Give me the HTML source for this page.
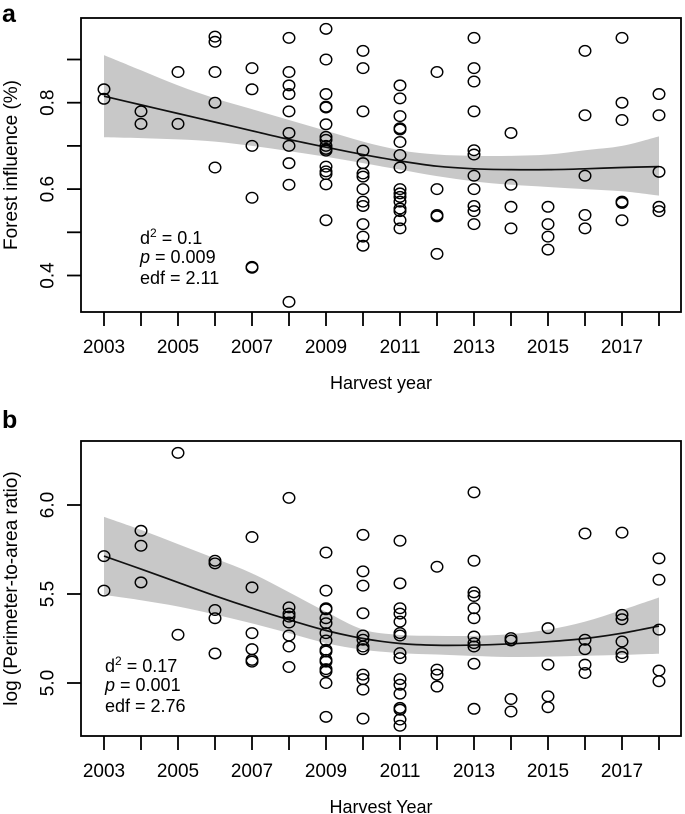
<!DOCTYPE html>
<html><head><meta charset="utf-8"><style>
body{margin:0;background:#fff}
svg{display:block;font-family:"Liberation Sans",Arial,sans-serif}
</style></head><body>
<svg id="chart" width="685" height="814" viewBox="0 0 685 814"></svg>
<script>
// ---- data: panel a (forest influence)
const yearsA = [2003,2003,2004,2004,2005,2005,2006,2006,2006,2006,2006,2007,2007,2007,2007,2007,2007,
2008,2008,2008,2008,2008,2008,2008,2008,2008,2008,
2009,2009,2009,2009,2009,2009,2009,2009,2009,2009,2009,2009,2009,2009,2009,2009,
2010,2010,2010,2010,2010,2010,2010,2010,2010,2010,2010,2010,2010,
2011,2011,2011,2011,2011,2011,2011,2011,2011,2011,2011,2011,2011,2011,2011,2011,
2012,2012,2012,2012,2012,
2013,2013,2013,2013,2013,2013,2013,2013,2013,2013,2013,
2014,2014,2014,2014,2015,2015,2015,2015,2016,2016,2016,2016,2016,
2017,2017,2017,2017,2017,2017,2018,2018,2018,2018,2018];
const valuesA = [0.831,0.809,0.78,0.751,0.871,0.751,0.953,0.941,0.871,0.80,0.65,0.88,0.831,0.70,0.58,0.42,0.418,
0.95,0.871,0.84,0.82,0.78,0.73,0.70,0.66,0.61,0.339,
0.971,0.90,0.82,0.791,0.789,0.75,0.721,0.714,0.70,0.693,0.689,0.652,0.641,0.635,0.611,0.528,
0.92,0.88,0.78,0.689,0.66,0.636,0.629,0.60,0.571,0.561,0.519,0.49,0.469,
0.84,0.81,0.769,0.741,0.738,0.709,0.679,0.65,0.60,0.59,0.582,0.571,0.555,0.549,0.528,0.509,
0.871,0.60,0.54,0.537,0.45,
0.95,0.88,0.849,0.78,0.69,0.68,0.631,0.60,0.561,0.549,0.519,
0.73,0.61,0.559,0.509,0.559,0.519,0.49,0.46,0.92,0.771,0.631,0.54,0.509,
0.95,0.80,0.76,0.571,0.568,0.528,0.82,0.771,0.64,0.559,0.549];
const fitYears = [2003,2004,2005,2006,2007,2008,2009,2010,2011,2012,2013,2014,2015,2016,2017,2018];
const fitA = [0.815,0.795,0.775,0.755,0.735,0.715,0.697,0.68,0.665,0.653,0.647,0.645,0.645,0.647,0.65,0.652];
const hiA = [0.91,0.875,0.84,0.81,0.785,0.76,0.735,0.71,0.69,0.68,0.677,0.677,0.68,0.69,0.70,0.722];
const loA = [0.72,0.718,0.715,0.71,0.70,0.688,0.675,0.66,0.645,0.63,0.618,0.61,0.605,0.6,0.595,0.585];
const yTicksA = [0.4,0.5,0.6,0.7,0.8,0.9];
const yLabelsA = ["0.4","","0.6","","0.8",""];
// ---- data: panel b (log perimeter-to-area)
const yearsB = [2003,2003,2004,2004,2004,2005,2005,2006,2006,2006,2006,2006,2007,2007,2007,2007,2007,2007,
2008,2008,2008,2008,2008,2008,2008,2008,
2009,2009,2009,2009,2009,2009,2009,2009,2009,2009,2009,2009,2009,2009,2009,2009,
2010,2010,2010,2010,2010,2010,2010,2010,2010,2010,2010,2010,
2011,2011,2011,2011,2011,2011,2011,2011,2011,2011,2011,2011,2011,2011,2011,2011,
2012,2012,2012,2012,
2013,2013,2013,2013,2013,2013,2013,2013,2013,2013,2013,
2014,2014,2014,2014,2015,2015,2015,2015,2016,2016,2016,2016,2016,
2017,2017,2017,2017,2017,2017,2018,2018,2018,2018,2018];
const valuesB = [5.713,5.519,5.855,5.771,5.565,6.293,5.271,5.687,5.672,5.41,5.364,5.166,5.82,5.537,5.28,5.19,5.13,5.12,
6.04,5.425,5.39,5.373,5.34,5.267,5.205,5.09,
5.733,5.519,5.42,5.414,5.364,5.336,5.28,5.239,5.187,5.177,5.13,5.12,5.078,5.065,5.0,4.81,
5.832,5.627,5.547,5.392,5.267,5.243,5.205,5.19,5.047,5.022,4.963,4.80,
5.799,5.56,5.42,5.39,5.345,5.28,5.267,5.168,5.14,5.022,4.99,4.94,4.86,4.85,4.795,4.76,
5.653,5.075,5.047,4.98,
6.071,5.687,5.509,5.489,5.42,5.364,5.261,5.224,5.205,5.108,4.855,
5.252,5.239,4.91,4.84,5.308,5.103,4.925,4.864,5.84,5.243,5.19,5.103,5.056,
5.845,5.383,5.358,5.233,5.168,5.146,5.70,5.58,5.30,5.07,5.01];
const fitB = [5.713,5.64,5.565,5.49,5.42,5.355,5.295,5.25,5.222,5.212,5.213,5.22,5.232,5.25,5.28,5.32];
const hiB = [5.933,5.86,5.78,5.70,5.616,5.51,5.40,5.30,5.27,5.265,5.265,5.275,5.30,5.345,5.41,5.48];
const loB = [5.495,5.465,5.43,5.385,5.335,5.28,5.224,5.187,5.168,5.16,5.152,5.146,5.148,5.153,5.158,5.164];
const yTicksB = [5.0,5.5,6.0];
const yLabelsB = ["5.0","5.5","6.0"];
const xTicks = [2003,2004,2005,2006,2007,2008,2009,2010,2011,2012,2013,2014,2015,2016,2017,2018];
const xLabels = ["2003","","2005","","2007","","2009","","2011","","2013","","2015","","2017",""];

const NS="http://www.w3.org/2000/svg";
const svg=document.getElementById('chart');
function mk(tag,attrs,parent){const e=document.createElementNS(NS,tag);for(const k in attrs)e.setAttribute(k,attrs[k]);(parent||svg).appendChild(e);return e;}
function xScale(y){return 104+(y-2003)*37;}
function smooth(pts){
  let d='M'+pts[0][0]+' '+pts[0][1];
  for(let i=0;i<pts.length-1;i++){
    const p0=pts[i-1]||pts[i],p1=pts[i],p2=pts[i+1],p3=pts[i+2]||p2;
    const c1x=p1[0]+(p2[0]-p0[0])/6,c1y=p1[1]+(p2[1]-p0[1])/6;
    const c2x=p2[0]-(p3[0]-p1[0])/6,c2y=p2[1]-(p3[1]-p1[1])/6;
    d+=`C${c1x} ${c1y} ${c2x} ${c2y} ${p2[0]} ${p2[1]}`;
  }
  return d;
}

function panel(cfg){
  const g=mk('g',{});
  
  
  const ys=v=>cfg.y0px+(v-cfg.y0)*cfg.pxPer;
  const hiPts=fitYears.map((yr,i)=>[xScale(yr),ys(cfg.hi[i])]);
  const loPts=fitYears.map((yr,i)=>[xScale(yr),ys(cfg.lo[i])]).reverse();
  const d=smooth(hiPts)+'L'+smooth(loPts).slice(1)+'Z';
  const rib=mk('path',{d:d,fill:'#c8c8c8',stroke:'none'},g);
  
  
  const fd=smooth(fitYears.map((yr,i)=>[xScale(yr),ys(cfg.fit[i])]));
  const fl=mk('path',{d:fd,fill:'none',stroke:'#111','stroke-width':1.7},g);
  
  
  cfg.years.forEach((yr,i)=>{
    const c=mk('ellipse',{cx:xScale(yr),cy:ys(cfg.vals[i]),rx:5.8,ry:5.3,fill:'none',stroke:'#000','stroke-width':1.4},g);
    
    
  });
  const box=mk('rect',{x:81,y:cfg.top,width:600,height:cfg.bottom-cfg.top,fill:'none',stroke:'#000','stroke-width':1.8},g);
  
  
  cfg.yTicks.forEach((v,i)=>{
    const y=ys(v);
    const t=mk('line',{x1:67,x2:81,y1:y,y2:y,stroke:'#000','stroke-width':1.8},g);
    
    
    if(cfg.yLabels[i]){
      const tx=mk('text',{x:48,y:y,transform:`rotate(-90 48 ${y})`,'text-anchor':'middle','dominant-baseline':'central','font-size':19},g);
      tx.textContent=cfg.yLabels[i];
      
      
    }
  });
  xTicks.forEach((yr,i)=>{
    const x=xScale(yr);
    const t=mk('line',{x1:x,x2:x,y1:cfg.bottom,y2:cfg.bottom+14,stroke:'#000','stroke-width':1.8},g);
    
    
    if(xLabels[i]){
      const tx=mk('text',{x:x,y:cfg.bottom+41,'text-anchor':'middle','font-size':19},g);
      tx.textContent=xLabels[i];
      
      
    }
  });
  const xt=mk('text',{x:381,y:cfg.bottom+77,'text-anchor':'middle','font-size':18},g);
  xt.textContent=cfg.xTitle;
  
  
  const cy=(cfg.top+cfg.bottom)/2;
  const yt=mk('text',{x:17,y:cy,transform:`rotate(-90 17 ${cy})`,'text-anchor':'middle','font-size':19},g);
  yt.textContent=cfg.yTitle;
  
  
  const pl=mk('text',{x:2,y:cfg.top-(cfg.letterOff),'font-size':25,'font-weight':'bold'},g);
  pl.textContent=cfg.letter;
  
  
  const st=mk('text',{x:cfg.statX,y:cfg.statY,'font-size':18},g);
  
  
  const l1=mk('tspan',{x:cfg.statX,dy:0},st);l1.textContent='d';
  const sup=mk('tspan',{dy:-7,'font-size':12},st);sup.textContent='2';
  const l1b=mk('tspan',{dy:7},st);l1b.textContent=' = '+cfg.d2;
  const l2=mk('tspan',{x:cfg.statX,dy:19,'font-style':'italic'},st);l2.textContent='p';
  const l2b=mk('tspan',{},st);l2b.textContent=' = '+cfg.p;
  const l3=mk('tspan',{x:cfg.statX,dy:21},st);l3.textContent='edf = '+cfg.edf;
}

panel({name:'panel-a-forest-influence',years:yearsA,vals:valuesA,fit:fitA,hi:hiA,lo:loA,
  yTicks:yTicksA,yLabels:yLabelsA,y0:0.8,y0px:102.7,pxPer:-432,top:18,bottom:312,
  xTitle:'Harvest year',yTitle:'Forest influence (%)',letter:'a',letterOff:-4,
  statX:140,statY:244,d2:'0.1',p:'0.009',edf:'2.11'});
panel({name:'panel-b-perimeter-area',years:yearsB,vals:valuesB,fit:fitB,hi:hiB,lo:loB,
  yTicks:yTicksB,yLabels:yLabelsB,y0:5.0,y0px:683,pxPer:-178,top:441,bottom:736,
  xTitle:'Harvest Year',yTitle:'log (Perimeter-to-area ratio)',letter:'b',letterOff:13,
  statX:105,statY:672,d2:'0.17',p:'0.001',edf:'2.76'});
</script>
</body></html>
